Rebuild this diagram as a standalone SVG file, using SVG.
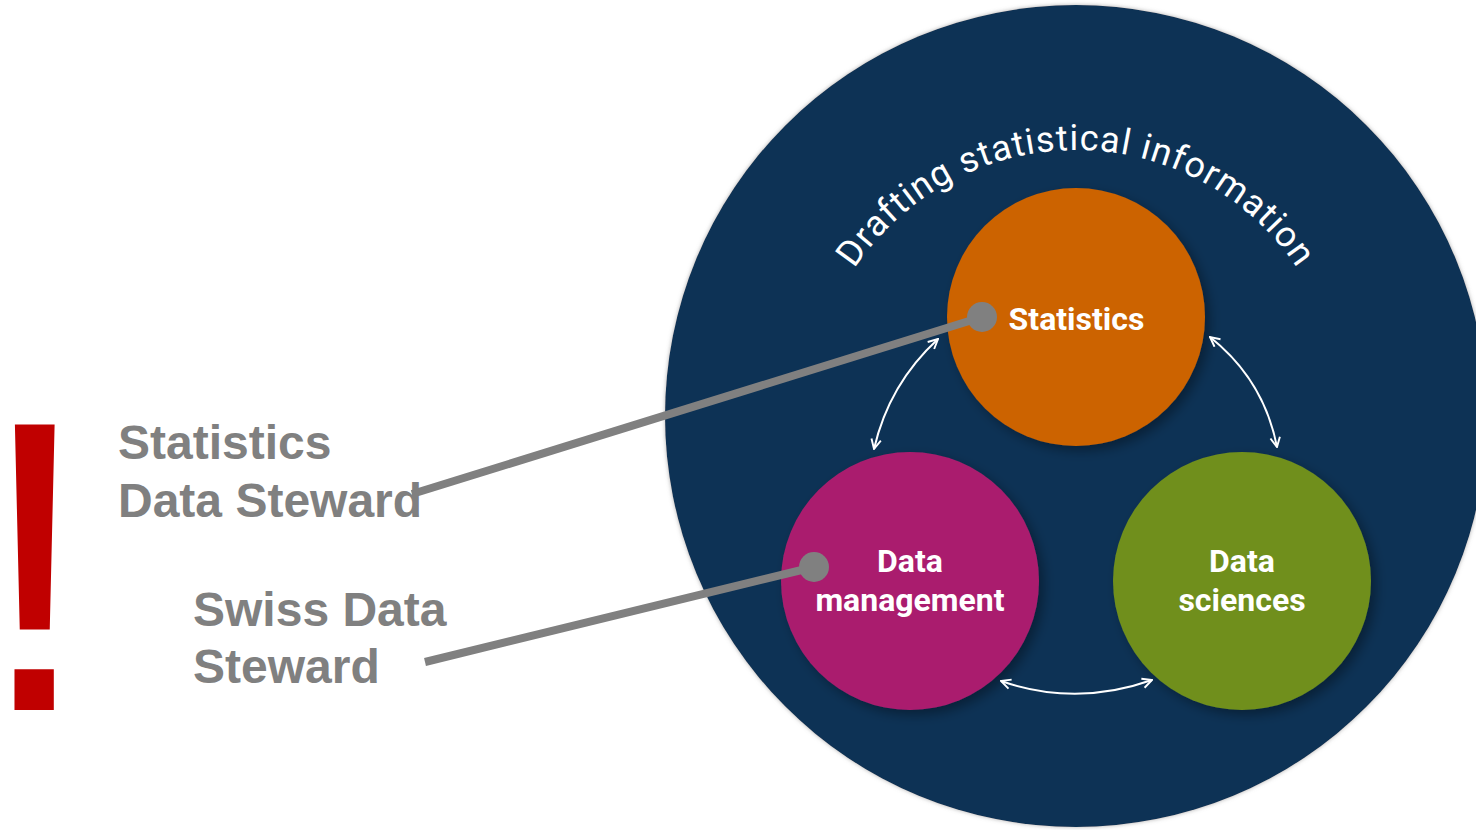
<svg xmlns="http://www.w3.org/2000/svg" width="1476" height="830" viewBox="0 0 1476 830">
  <style>
    .side { font-family: "Liberation Sans", Arial, sans-serif; font-weight: 700; font-size: 48px; fill: #808080; }
    .node-label { font-family: Roboto, "Noto Sans", sans-serif; font-weight: 700; font-size: 32px; fill: #ffffff; text-anchor: middle; }
    .arc-label { font-family: Roboto, "Noto Sans", sans-serif; font-weight: 400; font-size: 36px; letter-spacing: 1.1px; fill: #ffffff; }
    .rel { fill: none; stroke: #ffffff; stroke-width: 2; marker-start: url(#ah); marker-end: url(#ah); }
    .pointer { stroke: #808080; stroke-width: 8; stroke-linecap: butt; fill: none; }
    .dot { fill: #808080; }
  </style>
  <defs>
    <filter id="shadow" x="-20%" y="-20%" width="150%" height="150%">
      <feDropShadow dx="5" dy="5" stdDeviation="6" flood-color="#000000" flood-opacity="0.35"/>
    </filter>
    <filter id="halo" x="-10%" y="-10%" width="120%" height="120%">
      <feDropShadow dx="0" dy="0" stdDeviation="2" flood-color="#7a7a7a" flood-opacity="0.6"/>
    </filter>
    <marker id="ah" viewBox="0 0 10 10" refX="9" refY="5" markerWidth="12" markerHeight="12" markerUnits="userSpaceOnUse" orient="auto-start-reverse">
      <path d="M1,1 L9,5 L1,9" fill="none" stroke="#ffffff" stroke-width="1.6"/>
    </marker>
    <path id="arcPath" d="M 810 416 A 266 266 0 0 1 1342 416"/>
  </defs>

  <rect width="1476" height="830" fill="#ffffff"/>

  <g id="frame">
    <circle cx="1076" cy="416" r="411" fill="#0b3354" filter="url(#halo)"/>
    <text class="arc-label"><textPath href="#arcPath" startOffset="50%" text-anchor="middle">Drafting statistical information</textPath></text>
  </g>

  <g id="node-statistics">
    <circle cx="1076" cy="317" r="129" fill="#cc6300" filter="url(#shadow)"/>
    <text class="node-label" x="1076.5" y="330" font-size="33.5">Statistics</text>
  </g>

  <g id="node-data-management">
    <circle cx="910" cy="581" r="129" fill="#aa1e6e" filter="url(#shadow)"/>
    <text class="node-label" x="910" y="572">Data</text>
    <text class="node-label" x="910" y="611">management</text>
  </g>

  <g id="node-data-sciences">
    <circle cx="1242" cy="581" r="129" fill="#708f1e" filter="url(#shadow)"/>
    <text class="node-label" x="1242" y="572">Data</text>
    <text class="node-label" x="1242" y="611">sciences</text>
  </g>

  <g id="label-statistics-steward">
    <text class="side" x="118" y="459">Statistics</text>
    <text class="side" x="118" y="517">Data Steward</text>
  </g>

  <g id="label-swiss-steward">
    <text class="side" x="193" y="626">Swiss Data</text>
    <text class="side" x="193" y="683">Steward</text>
  </g>

  <g id="exclamation">
    <text x="-23" y="710" font-family="Liberation Sans, Arial, sans-serif" font-weight="400" font-size="415" fill="#c00000">!</text>
  </g>

  <g id="connectors">
    <path class="rel" d="M 938 339 Q 889 384 874 449"/>
    <path class="rel" d="M 1210 337 Q 1264 380 1277 447"/>
    <path class="rel" d="M 1001 681 Q 1076 707 1152 680"/>
    <line class="pointer" x1="412" y1="494" x2="982" y2="317"/>
    <circle class="dot" cx="982" cy="317" r="15"/>
    <line class="pointer" x1="425" y1="662" x2="814" y2="567"/>
    <circle class="dot" cx="814" cy="567" r="15"/>
  </g>
</svg>
